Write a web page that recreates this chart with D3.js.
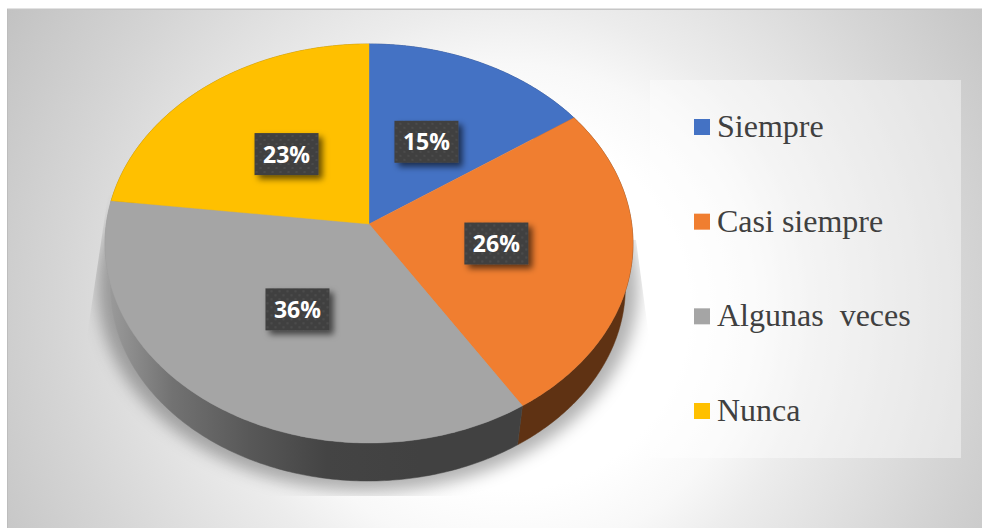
<!DOCTYPE html>
<html><head><meta charset="utf-8">
<script src="https://cdn.jsdelivr.net/npm/d3@7/dist/d3.min.js"></script>
<style>html,body{margin:0;padding:0;background:#fff;overflow:hidden}svg{display:block}</style>
</head><body><svg id="c" width="982" height="528"></svg>
<script>
const categories = ["Siempre", "Casi siempre", "Algunas  veces", "Nunca"];
const shares = [15.4, 25.6, 35.9, 23.1];
const topColors = ["#4472c4", "#f07e30", "#a5a5a5", "#ffc000"];
const wallColors = ["#2a4578", "#5f3213", "url(#grayWall)", "#9a7400"];

const svg = d3.select("#c");
const defs = svg.append("defs");

const bg = defs.append("radialGradient").attr("id","bg").attr("gradientUnits","userSpaceOnUse")
  .attr("cx",510).attr("cy",310).attr("r",600);
[[0,"#ffffff"],[0.3,"#ffffff"],[0.41,"#f8f8f8"],[0.507,"#ececec"],[0.755,"#d5d5d5"],[0.977,"#c2c2c2"],[1,"#c0c0c0"]]
  .forEach(d=>bg.append("stop").attr("offset",d[0]).attr("stop-color",d[1]));

const gw = defs.append("linearGradient").attr("id","grayWall").attr("gradientUnits","userSpaceOnUse")
  .attr("x1",110).attr("x2",420).attr("y1",0).attr("y2",0);
[[0,"#9a9a9a"],[0.2,"#727272"],[0.45,"#585858"],[0.7,"#444444"],[1,"#414141"]]
  .forEach(d=>gw.append("stop").attr("offset",d[0]).attr("stop-color",d[1]));

defs.append("filter").attr("id","blur").attr("x","-20%").attr("y","-20%").attr("width","140%").attr("height","140%")
  .append("feGaussianBlur").attr("stdDeviation",8);
defs.append("filter").attr("id","boxShadow").attr("x","-30%").attr("y","-30%").attr("width","170%").attr("height","170%")
  .append("feDropShadow").attr("dx",4).attr("dy",4).attr("stdDeviation",3).attr("flood-color","#000").attr("flood-opacity",0.6);

const pat = defs.append("pattern").attr("id","dots").attr("patternUnits","userSpaceOnUse").attr("width",8).attr("height",8);
pat.append("rect").attr("width",8).attr("height",8).attr("fill","#404040");
pat.append("circle").attr("cx",2).attr("cy",2).attr("r",1).attr("fill","#505050");
pat.append("circle").attr("cx",6).attr("cy",6).attr("r",1).attr("fill","#505050");

// the clipped area in which the soft shadow shows
defs.append("clipPath").attr("id","shadowClip").append("polygon")
  .attr("points","108,195 85,350 85,496 655,496 650,345 636,240");

// perspective disc
const K = 0.0977;
const px = d3.scaleLinear().domain([0,1]).range([369,369+262.7]);
const py = d3.scaleLinear().domain([0,1]).range([224,224+197.6]);
const project = (u,v) => [px(u/(1-K*v)), py(v/(1-K*v))];
const onRim = a => project(Math.sin(a), -Math.cos(a));
const lower = p => [368+0.975*(p[0]-369), 481+0.973*(p[1]-443)];

const pie = d3.pie().sort(null).value(d=>d);
const arcs = pie(shares);
const line = d3.line();
const arcUnit = d3.arc().innerRadius(0).outerRadius(0.98);
const angleSteps = (a0,a1) => d3.range(0,161).map(i=>a0+(a1-a0)*i/160);

svg.append("rect").attr("x",7).attr("y",9).attr("width",975).attr("height",519).attr("fill","url(#bg)");
svg.append("rect").attr("x",7).attr("y",8.5).attr("width",975).attr("height",1.5).attr("fill","#c6c6c6");
svg.append("rect").attr("x",7).attr("y",9).attr("width",1).attr("height",519).attr("fill","#bdbdbd");

// soft shadow under the pie
const outline = angleSteps(0,2*Math.PI).map(a=>{
  const p = lower(onRim(a));
  return [368+1.05*(p[0]-368), 290+1.05*(p[1]-290)+1];
});
svg.append("g").attr("clip-path","url(#shadowClip)")
  .append("path").attr("d",line(outline)+"Z").attr("fill","#000").attr("fill-opacity",0.3).attr("filter","url(#blur)");

// legend panel
svg.append("rect").attr("x",650).attr("y",80).attr("width",311).attr("height",378).attr("fill","#fff").attr("fill-opacity",0.42);

// walls
svg.append("g").selectAll("path").data(arcs).join("path")
  .attr("d",d=>{
    const top = angleSteps(d.startAngle,d.endAngle).map(onRim);
    return line(top.concat(top.map(lower).reverse()))+"Z";
  })
  .attr("fill",(d,i)=>wallColors[i]).attr("stroke",(d,i)=>wallColors[i]).attr("stroke-width",0.5);

// top faces
svg.append("g").selectAll("path").data(arcs).join("path")
  .attr("d",d=>line([project(0,0)].concat(angleSteps(d.startAngle,d.endAngle).map(onRim)))+"Z")
  .attr("fill",(d,i)=>topColors[i]).attr("stroke",(d,i)=>topColors[i]).attr("stroke-width",0.4);

// data labels
const labels = svg.append("g").selectAll("g").data(arcs).join("g")
  .attr("transform",d=>{
    const c = arcUnit.centroid(d);
    return "translate("+project(c[0],c[1]).join(",")+")";
  });
labels.append("rect").attr("x",-32).attr("y",-21).attr("width",64).attr("height",42)
  .attr("fill","url(#dots)").attr("filter","url(#boxShadow)");
labels.append("text").attr("text-anchor","middle").attr("y",8.5)
  .attr("font-family","'Open Sans'").attr("font-weight",700).attr("font-size",23).attr("fill","#fff")
  .text(d=>Math.round(d.data)+"%");

// legend
const legendY = d3.scaleLinear().domain([0,3]).range([137,421]);
const items = svg.append("g").selectAll("g").data(categories).join("g")
  .attr("transform",(d,i)=>"translate(694,"+legendY(i)+")");
items.append("rect").attr("y",-18).attr("width",16).attr("height",16).attr("fill",(d,i)=>topColors[i]);
items.append("text").attr("x",23).attr("font-family","'Liberation Serif'").attr("font-size",32)
  .attr("fill","#404040").style("white-space","pre").text(d=>d);
</script></body></html>
